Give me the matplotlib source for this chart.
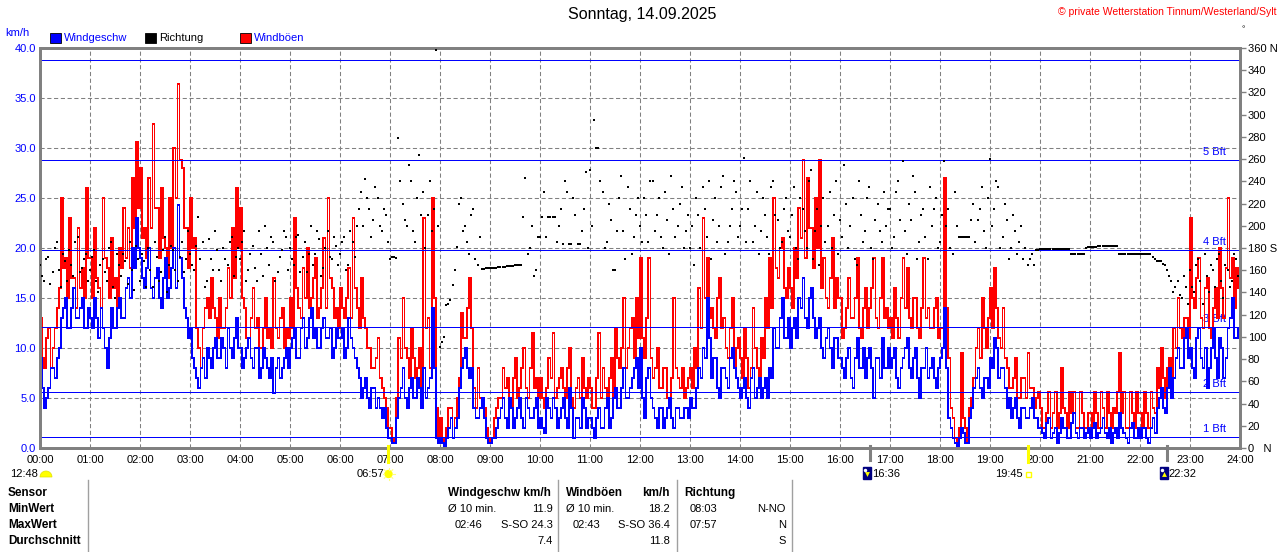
import numpy as np
import matplotlib
matplotlib.use("Agg")
import matplotlib.pyplot as plt
from matplotlib.patches import Rectangle, Circle, Wedge

plt.rcParams['font.family'] = ['Liberation Sans', 'DejaVu Sans']

# values read every 5 minutes (at :00, :05 ...), one row per hour
gust = [
    [13, 8, 12, 10, 14, 25, 19, 23, 17, 22, 18, 26],
    [19, 22, 16, 25, 18, 21, 17, 20, 24, 22, 27, 30.6],
    [28, 22, 27, 32.4, 24, 26, 20, 25, 30, 36.4, 28, 22],
    [25, 21, 10, 12, 15, 17, 13, 15, 12, 18, 22, 26],
    [24, 14, 11, 16, 13, 10, 15, 12, 17, 11, 14, 12],
    [15, 23, 14, 18, 20, 15, 19, 14, 21, 25, 16, 14],
    [16, 13, 18, 23, 14, 17, 12, 10, 8, 11, 6, 4],
    [2, 0.5, 11, 15, 9, 12, 7, 10, 23, 13, 25, 4],
    [3, 0.5, 4, 1, 5, 13.5, 11, 17, 6, 8, 4, 2],
    [0.5, 3, 5, 8, 7, 4, 9, 6, 10, 5, 11.5, 7],
    [7, 4, 9, 11.5, 6, 8, 5, 10, 4, 7, 9, 5],
    [6, 4, 11.5, 8, 5, 9, 12, 8, 15, 10, 13, 15],
    [19, 9, 19, 7, 10, 6, 8, 5, 15, 7, 8, 6],
    [8, 10, 16, 23, 19, 14, 11, 17, 13, 9, 15, 10],
    [9, 12, 6, 14, 8, 11, 15, 19, 25, 17, 21, 15],
    [16, 20, 24, 28.8, 27, 22, 25, 28.8, 19, 14, 21, 17],
    [15, 12, 17, 13, 19, 11, 16, 14, 19, 12, 19, 14],
    [13, 16, 11, 19, 18, 12, 15, 11, 19, 14, 12, 15],
    [12, 27, 9, 3, 0.5, 9.5, 2, 4, 7, 12, 15, 10],
    [16, 18, 11, 14, 8, 6, 9, 5, 7, 9.5, 6, 5],
    [4, 2, 5.6, 3.5, 2, 8, 3.5, 5.6, 5.6, 2, 3.5, 2],
    [3.5, 5.6, 2, 4, 5.6, 2, 3.5, 9.5, 5.6, 2, 3.5, 5.6],
    [3.5, 5.6, 2, 4, 8, 10, 5, 9, 12, 15, 11, 13],
    [23, 14, 19, 12, 17, 11, 16, 20, 13, 25, 19, 18],
]
# values read in between (at :02.5, :07.5 ...)
gust_mid = [
    [9, 11, 8, 12, 16, 18, 15, 17, 14, 16, 15, 19],
    [15, 17, 14, 19, 15, 16, 14, 18, 19, 18, 22, 24],
    [21, 19, 22, 24, 19, 21, 17, 20, 25, 28.8, 22, 18],
    [20, 12, 8, 14, 13, 14, 11, 12, 14, 15, 17, 20],
    [15, 11, 13, 12, 10, 12, 11, 10, 12, 13, 10, 11],
    [12, 16, 13, 15, 14, 17, 13, 16, 14, 17, 13, 12],
    [14, 15, 13, 16, 12, 13, 10, 8, 9, 7, 5, 2],
    [1, 5, 9, 10, 7, 9, 8, 6, 12, 8, 15, 1],
    [1, 2, 4, 3, 7, 11, 14, 12, 4, 5, 4, 1],
    [1, 4, 5, 6, 5, 7, 5, 8, 6, 8, 6, 5],
    [5, 6, 7, 5, 7, 6, 8, 5, 6, 5, 6, 7],
    [4, 7, 5, 6, 7, 5, 9, 10, 8, 12, 9, 11],
    [11, 13, 9, 8, 6, 8, 5, 7, 8, 6, 5, 7],
    [6, 8, 12, 15, 13, 12, 15, 12, 10, 12, 8, 11],
    [7, 9, 8, 10, 7, 9, 12, 14, 18, 20, 16, 18],
    [14, 17, 21, 19, 22, 18, 20, 16, 15, 17, 14, 15],
    [11, 14, 13, 15, 12, 14, 12, 16, 13, 15, 13, 12],
    [11, 13, 15, 14, 13, 15, 12, 14, 13, 12, 14, 11],
    [12, 14, 4, 1, 2, 3, 0.5, 5, 10, 9, 12, 13],
    [12, 14, 10, 9, 6, 7, 5, 7, 5, 6, 4, 5.6],
    [2, 3.5, 2, 5.6, 3.5, 4, 2, 3.5, 2, 5.6, 2, 3.5],
    [2, 3.5, 5.6, 2, 3.5, 4, 5.6, 3.5, 2, 5.6, 2, 3.5],
    [2, 3.5, 5.6, 3.5, 6, 7, 8, 7, 10, 12, 13, 11],
    [15, 17, 13, 16, 12, 14, 13, 16, 18, 17, 14, 16],
]
wind = [
    [9, 4, 6, 8, 9, 13, 15, 12, 16, 13, 15, 12],
    [13, 15, 11, 12, 8, 14, 12, 15, 13, 17, 20, 23],
    [19, 16, 20, 15, 18, 14, 19, 16, 20, 24.3, 17, 13],
    [12, 8, 6, 9, 10, 8, 11, 9, 10, 12, 9, 13],
    [10, 9, 11, 8, 10, 8, 9, 7, 5.5, 9, 8, 10],
    [10, 12, 9, 13, 11, 14, 12, 10, 13, 11, 9, 12],
    [11, 9, 13, 10, 8, 5, 7, 4, 6, 5, 3, 2],
    [1, 0.5, 5, 8, 4, 7, 5, 6, 8, 6, 14, 1],
    [1, 0, 2, 1, 3, 8, 10, 7, 4, 3, 5, 1],
    [0.5, 1, 3, 5, 2, 4, 3, 5, 2, 4, 3, 5],
    [3, 1.5, 4, 5, 2, 4, 3, 6, 1, 3, 5, 2],
    [3, 1, 4, 2, 5, 3, 6, 4, 8, 5, 7, 9],
    [10, 3, 8, 4, 2, 4, 3, 5, 2, 4, 3, 4],
    [5, 4, 8, 10, 15, 7, 9, 5, 8, 6, 10, 7],
    [5, 7, 4, 8, 6, 5, 7, 8, 12, 10, 15, 11],
    [10, 13, 15, 17, 12, 16, 11, 13, 9, 12, 8, 11],
    [9, 7, 10, 6, 11, 8, 7, 10, 5, 9, 11, 8],
    [8, 10, 6, 9, 11, 7, 10, 5, 8, 7, 9, 6],
    [9, 14, 3, 1, 0, 2, 0.5, 3, 6, 8, 5, 7],
    [9, 11, 7, 8, 4, 3, 5, 2, 4, 3, 5, 3],
    [2, 1, 3, 1.5, 0.5, 3, 2, 1, 3.5, 1, 2, 1.5],
    [1, 2.5, 1.5, 3, 1, 0.5, 2, 3.5, 1.5, 0.5, 2.5, 1],
    [1, 2, 0.5, 3, 4, 6, 3.5, 8, 7, 10, 8, 12],
    [10, 7, 12, 8, 6, 10, 9, 11, 7, 12, 15, 11],
]
wind_mid = [
    [6, 5, 8, 7, 10, 14, 12, 14, 13, 14, 12, 14],
    [12, 13, 14, 10, 11, 12, 14, 13, 16, 15, 18, 20],
    [17, 18, 16, 17, 15, 17, 15, 18, 16, 19, 14, 11],
    [9, 7, 8, 7, 9, 10, 9, 11, 8, 10, 11, 10],
    [8, 10, 9, 10, 7, 10, 8, 9, 8, 7, 9, 8],
    [11, 9, 12, 10, 13, 11, 10, 12, 11, 12, 10, 11],
    [12, 10, 11, 9, 7, 6, 5, 6, 4, 4, 4, 1],
    [0.5, 3, 6, 5, 6, 5, 7, 4, 5, 7, 8, 0.5],
    [0.5, 1, 3, 2, 6, 9, 8, 8, 3, 4, 3, 0.5],
    [1, 2, 4, 3, 5, 2, 4, 3, 5, 3, 4, 2],
    [2, 5, 3, 4, 3, 5, 2, 4, 3, 2, 4, 3],
    [2, 3, 2, 4, 2, 5, 4, 6, 5, 6, 8, 6],
    [5, 7, 5, 3, 4, 2, 4, 3, 4, 3, 4, 3],
    [4, 6, 7, 9, 11, 9, 6, 8, 7, 9, 8, 6],
    [6, 5, 7, 5, 7, 6, 5, 7, 10, 13, 11, 13],
    [12, 11, 14, 13, 15, 13, 12, 10, 11, 10, 11, 9],
    [8, 9, 7, 9, 8, 10, 9, 8, 9, 7, 8, 10],
    [9, 7, 8, 10, 8, 9, 7, 8, 10, 8, 7, 8],
    [10, 8, 2, 0.5, 1, 1.5, 0.5, 4, 7, 6, 7, 6],
    [8, 10, 8, 6, 5, 4, 3, 4, 3, 4, 3, 2],
    [1.5, 2.5, 1, 2, 1.5, 2, 1, 2.5, 1.5, 2, 1, 2],
    [2, 1, 2, 1.5, 2, 1.5, 1, 2, 1, 2, 1, 2],
    [2, 1, 2, 1.5, 5, 4, 6, 5, 9, 8, 11, 9],
    [8, 11, 9, 10, 8, 12, 7, 10, 9, 13, 11, 12],
]
direction = [
    [165, 150, 172, 158, 185, 145, 168, 178, 155, 190, 162, 175],
    [160, 178, 140, 170, 150, 185, 135, 165, 175, 148, 160, 182],
    [150, 168, 180, 145, 172, 158, 190, 165, 178, 150, 185, 170],
    [175, 160, 208, 185, 150, 170, 195, 160, 180, 165, 190, 172],
    [170, 195, 160, 182, 150, 175, 200, 165, 185, 158, 178, 190],
    [180, 165, 192, 172, 158, 200, 175, 188, 162, 195, 170, 182],
    [175, 190, 165, 185, 200, 230, 242, 215, 205, 225, 195, 210],
    [170, 172, 279, 220, 200, 240, 185, 264, 230, 210, 195, 358],
    [91, 100, 130, 147, 181, 225, 200, 175, 215, 165, 161, 162],
    [162, 162, 163, 163, 164, 164, 165, 165, 208, 175, 200, 160],
    [190, 230, 208, 208, 185, 215, 240, 184, 225, 184, 195, 248],
    [250, 295, 270, 230, 185, 205, 160, 225, 195, 235, 175, 210],
    [200, 225, 185, 240, 210, 190, 230, 175, 215, 200, 235, 195],
    [180, 165, 210, 235, 190, 170, 225, 200, 245, 185, 215, 230],
    [200, 261, 215, 185, 230, 195, 210, 175, 240, 205, 185, 225],
    [190, 235, 170, 215, 180, 250, 195, 165, 225, 200, 180, 240],
    [205, 255, 180, 225, 165, 210, 195, 235, 170, 220, 185, 200],
    [215, 190, 240, 258, 175, 205, 230, 185, 215, 170, 200, 225],
    [185, 258, 215, 175, 200, 190, 190, 190, 220, 205, 235, 180],
    [260, 215, 235, 190, 205, 180, 195, 185, 170, 165, 175, 178],
    [179, 179, 179, 179, 179, 179, 179, 179, 175, 175, 175, 180],
    [181, 181, 182, 182, 182, 182, 182, 175, 175, 175, 175, 175],
    [175, 175, 175, 172, 168, 168, 165, 155, 140, 150, 135, 145],
    [160, 140, 170, 130, 155, 165, 145, 175, 135, 160, 150, 170],
]
direction_mid = [
    [155, 170, 148, 180, 160, 175, 150, 165, 185, 158, 170, 150],
    [172, 150, 165, 158, 180, 145, 175, 155, 168, 185, 142, 170],
    [175, 145, 160, 185, 150, 178, 140, 182, 160, 172, 158, 195],
    [165, 182, 170, 145, 188, 160, 178, 150, 170, 185, 155, 180],
    [185, 150, 175, 162, 195, 155, 180, 190, 150, 172, 195, 160],
    [170, 190, 158, 185, 175, 165, 195, 155, 180, 172, 190, 165],
    [185, 160, 195, 172, 215, 200, 225, 190, 235, 200, 215, 185],
    [172, 171, 240, 205, 255, 195, 225, 210, 180, 240, 215, 200],
    [95, 129, 133, 160, 220, 195, 185, 210, 170, 190, 161, 162],
    [162, 162, 163, 163, 164, 164, 165, 165, 243, 180, 155, 190],
    [208, 190, 208, 208, 200, 184, 230, 184, 210, 184, 215, 180],
    [200, 270, 240, 180, 220, 160, 195, 245, 170, 215, 190, 225],
    [185, 210, 240, 195, 225, 180, 205, 245, 190, 220, 180, 210],
    [200, 225, 180, 215, 240, 205, 185, 235, 175, 200, 240, 190],
    [215, 185, 240, 200, 175, 225, 190, 235, 210, 180, 215, 195],
    [210, 180, 225, 195, 240, 170, 215, 200, 185, 230, 210, 175],
    [190, 220, 200, 170, 240, 185, 225, 180, 205, 195, 230, 215],
    [180, 230, 205, 195, 220, 245, 170, 210, 190, 235, 215, 180],
    [210, 200, 180, 230, 190, 190, 190, 205, 185, 215, 195, 225],
    [200, 240, 180, 220, 170, 210, 175, 200, 180, 170, 165, 178],
    [179, 179, 179, 179, 179, 179, 179, 175, 175, 175, 175, 181],
    [181, 181, 182, 182, 182, 182, 182, 175, 175, 175, 175, 175],
    [175, 175, 175, 170, 168, 166, 160, 150, 145, 138, 155, 130],
    [145, 165, 150, 175, 140, 160, 170, 150, 165, 145, 175, 155],
]

bft_levels = [1.1, 5.6, 12.1, 19.8, 28.8, 38.8]
bft_names = ["1 Bft", "2 Bft", "3 Bft", "4 Bft", "5 Bft", ""]

title = "Sonntag, 14.09.2025"
station = "\u00a9 private Wetterstation Tinnum/Westerland/Sylt"
day_length = "12:48"
sunrise, sunset = "06:57", "19:45"
moon_set, moon_rise = "16:36", "22:32"

row_names = ["Sensor", "MinWert", "MaxWert", "Durchschnitt"]
wind_stats = ["\u00d8 10 min.", "11.9", "02:46", "S-SO 24.3", "7.4"]
gust_stats = ["\u00d8 10 min.", "18.2", "02:43", "S-SO 36.4", "11.8"]
dir_stats = ["08:03", "N-NO", "07:57", "N", "S"]

BLUE = '#0000ff'
RED = '#ff0000'
GRAY = '#808080'


def hrs(s):
    h, m = s.split(':')
    return int(h) + int(m) / 60.0


def merge(a, b):
    # interleave the :00/:05 readings with the in-between readings
    return np.column_stack((np.ravel(a), np.ravel(b))).ravel()


gust_all = merge(gust, gust_mid)
wind_all = merge(wind, wind_mid)
dir_all = merge(direction, direction_mid)
t = np.arange(len(gust_all)) / 24.0
ts = np.append(t, 24.0)

W, H = 1280, 552
fig = plt.figure(figsize=(W / 100, H / 100), dpi=100)
fig.patch.set_facecolor('white')
ax = fig.add_axes([40 / W, 1 - 448 / H, 1200 / W, 400 / H])
ax.set_xlim(0, 24)
ax.set_ylim(0, 40)

ax.step(ts, np.append(gust_all, gust_all[-1]), where='post', color=RED, lw=0.55,
        antialiased=False, zorder=2)
ax.step(ts, np.append(wind_all, wind_all[-1]), where='post', color=BLUE, lw=0.55,
        antialiased=False, zorder=2.5)
for lv, nm in zip(bft_levels, bft_names):
    ax.axhline(lv, color=BLUE, lw=0.55, antialiased=False, zorder=3)
    if nm:
        ax.text(23.72, lv + 0.3, nm, ha='right', va='bottom', color=BLUE,
                fontsize=8, zorder=1.5)

ax.set_xticks(range(25))
ax.set_xticklabels(["%02d:00" % h for h in range(25)], fontsize=8)
ax.set_yticks(np.arange(0, 41, 5))
ax.set_yticklabels(["%.1f" % v for v in np.arange(0, 41, 5)], fontsize=8, color=BLUE)
ax.tick_params(length=0)
ax.tick_params(axis='x', pad=5)
ax.tick_params(axis='y', pad=3)
ax.grid(True, color=GRAY, ls=(0, (4, 2.5)), lw=0.75, zorder=0)
for sp in ax.spines.values():
    sp.set_color(GRAY)
    sp.set_linewidth(2)

ax2 = ax.twinx()
ax2.set_ylim(0, 360)
ax2.plot(t, dir_all, 's', color='black', ms=2.0, mew=0, zorder=4)
dticks = list(range(0, 361, 20))
dlabels = []
for d in dticks:
    if d == 360:
        dlabels.append("360 N")
    elif d == 180:
        dlabels.append("180 S")
    elif d == 0:
        dlabels.append("0   N")
    else:
        dlabels.append(str(d))
ax2.set_yticks(dticks)
ax2.set_yticklabels(dlabels, fontsize=8)
ax2.tick_params(axis='y', length=4, width=1, color=GRAY, pad=1.5)
for sp in ax2.spines.values():
    sp.set_color(GRAY)
    sp.set_linewidth(2)

# sun / moon marks below the time axis
xt = ax2.get_xaxis_transform()
for s in (sunrise, sunset):
    ax2.plot([hrs(s)] * 2, [-0.035, 0.006], color='#ffff00', lw=2.2,
             transform=xt, clip_on=False, zorder=6)
for s in (moon_set, moon_rise):
    ax2.plot([hrs(s)] * 2, [-0.03, 0.006], color=GRAY, lw=2.2,
             transform=xt, clip_on=False, zorder=6)

# overlay in pixel coordinates for header, legend and table
ov = fig.add_axes([0, 0, 1, 1], facecolor='none')
ov.set_xlim(0, W)
ov.set_ylim(H, 0)
ov.axis('off')


def px(s):
    return ax.transData.transform((hrs(s), 0))[0]


ov.text(642, 15, title, ha='center', va='center', fontsize=11.5)
ov.text(1277, 12, station, ha='right', va='center', color=RED, fontsize=7.5)
ov.text(1243, 30, "\u00b0", ha='center', va='center', fontsize=6)
ov.text(5, 33, "km/h", ha='left', va='center', color=BLUE, fontsize=8)

legend_items = [("Windgeschw", BLUE, BLUE, 50), ("Richtung", 'black', 'black', 145),
                ("Windb\u00f6en", RED, BLUE, 240)]
for name, fc, tc, x0 in legend_items:
    ov.add_patch(Rectangle((x0, 33), 11, 10, fc=fc, ec='black', lw=0.6))
    ov.text(x0 + 14, 38, name, ha='left', va='center', color=tc, fontsize=8)

# day length, sunrise, moon set, sunset, moon rise
ov.add_patch(Wedge((46, 477), 6, 180, 360, fc='#ffff00', ec='#e0e000', lw=0.5))
ov.text(38, 474, day_length, ha='right', va='center', fontsize=8)

xs = px(sunrise)
ov.add_patch(Circle((xs + 1, 474), 3.5, fc='#ffff00', ec='#ffff00'))
for a in np.linspace(0, 2 * np.pi, 8, endpoint=False):
    ov.plot([xs + 1 + 4.5 * np.cos(a), xs + 1 + 6 * np.cos(a)],
            [474 + 4.5 * np.sin(a), 474 + 6 * np.sin(a)], color='#ffff80', lw=0.8)
ov.text(xs - 3, 474, sunrise, ha='right', va='center', fontsize=8)

xs = px(sunset)
ov.add_patch(Rectangle((xs - 2, 471.5), 5, 5, fill=False, ec='#ffff00', lw=1))
ov.text(xs - 5, 474, sunset, ha='right', va='center', fontsize=8)

for s, mk in ((moon_set, 'v'), (moon_rise, '^')):
    xm = px(s)
    ov.add_patch(Rectangle((xm - 7, 467), 8, 12, fc='#000080', ec='#000080'))
    ov.plot(xm - 3, 474, marker=mk, color='#ffff00', ms=3.5, mew=0)
    ov.plot(xm - 5, 469.5, marker='o', color='white', ms=2.5, mew=0)
    ov.text(xm + 2, 474, s, ha='left', va='center', fontsize=8)

# statistics table
rows_y = [493, 509, 525, 541]
for x in (88, 558, 677, 792):
    ov.plot([x, x], [480, 552], color='#a0a0a0', lw=1)
for nm, y in zip(row_names, rows_y):
    ov.text(8, y, nm, ha='left', va='center', fontsize=8.5, fontweight='bold')

ov.text(448, rows_y[0], "Windgeschw km/h", ha='left', va='center', fontsize=8.5, fontweight='bold')
ov.text(566, rows_y[0], "Windb\u00f6en", ha='left', va='center', fontsize=8.5, fontweight='bold')
ov.text(670, rows_y[0], "km/h", ha='right', va='center', fontsize=8.5, fontweight='bold')
ov.text(684, rows_y[0], "Richtung", ha='left', va='center', fontsize=8.5, fontweight='bold')

for st, xl, xr in ((wind_stats, 448, 553), (gust_stats, 566, 670)):
    ov.text(xl, rows_y[1], st[0], ha='left', va='center', fontsize=8)
    ov.text(xr, rows_y[1], st[1], ha='right', va='center', fontsize=8)
    ov.text(xl + 7, rows_y[2], st[2], ha='left', va='center', fontsize=8)
    ov.text(xr, rows_y[2], st[3], ha='right', va='center', fontsize=8)
    ov.text(xr, rows_y[3], st[4], ha='right', va='center', fontsize=8)

ov.text(690, rows_y[1], dir_stats[0], ha='left', va='center', fontsize=8)
ov.text(786, rows_y[1], dir_stats[1], ha='right', va='center', fontsize=8)
ov.text(690, rows_y[2], dir_stats[2], ha='left', va='center', fontsize=8)
ov.text(786, rows_y[2], dir_stats[3], ha='right', va='center', fontsize=8)
ov.text(786, rows_y[3], dir_stats[4], ha='right', va='center', fontsize=8)

fig.savefig('out.png', dpi=100)
